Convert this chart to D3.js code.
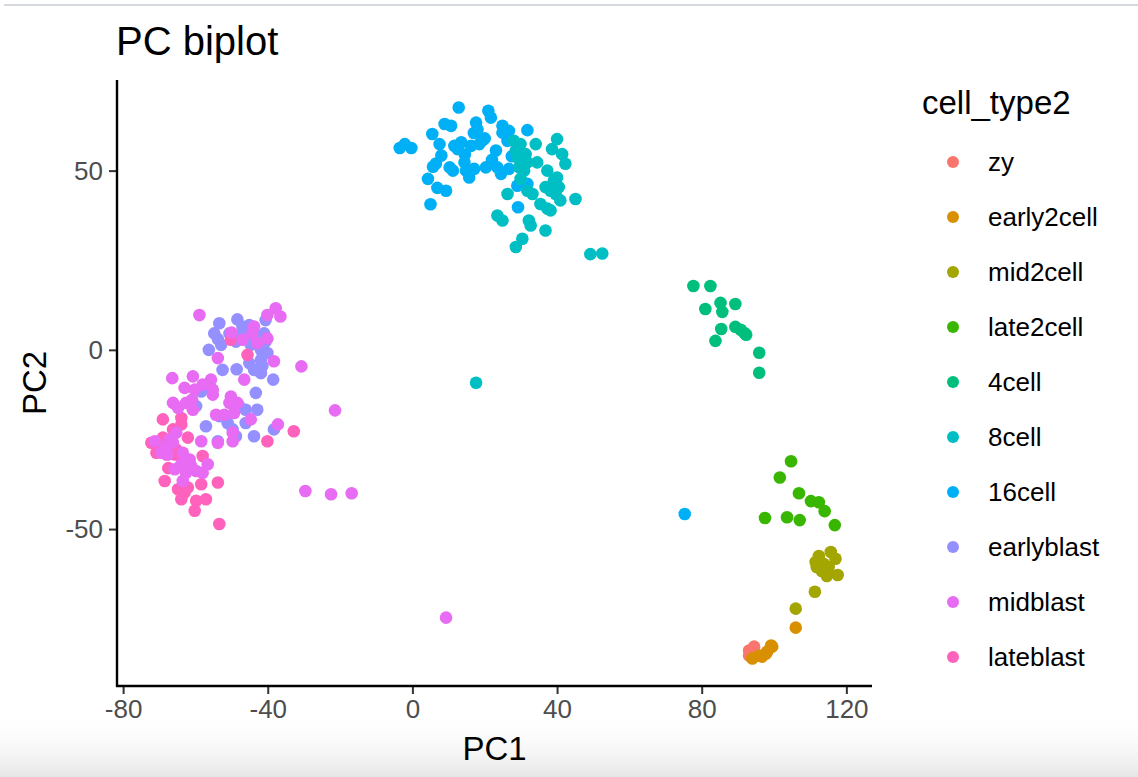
<!DOCTYPE html>
<html>
<head>
<meta charset="utf-8">
<script src="https://cdn.jsdelivr.net/npm/d3@7"></script>
<style>
  html, body { margin: 0; padding: 0; background: #fff; }
  body { width: 1138px; height: 777px; overflow: hidden; }
  svg { display: block; font-family: "Liberation Sans", Arial, Helvetica, sans-serif; }
</style>
</head>
<body>
<div id="chart"></div>
<script>
// ─── Data (PC1, PC2 per cell) ───
const categories = ['zy', 'early2cell', 'mid2cell', 'late2cell', '4cell', '8cell', '16cell', 'earlyblast', 'midblast', 'lateblast'];
const colors = ['#F8766D', '#D89000', '#A3A500', '#39B600', '#00BF7D', '#00BFC4', '#00B0F6', '#9590FF', '#E76BF3', '#FF62BC'];

const zy = [[93.1, -83.9], [94.5, -82.8], [94.0, -84.7], [93.1, -85.3]];
const early2cell = [[106.0, -77.5], [99.2, -82.5], [98.1, -84.2], [95.9, -85.3], [94.0, -86.1], [96.7, -85.6], [99.5, -82.8], [97.8, -84.7]];
const mid2cell = [[112.4, -57.5], [115.7, -56.4], [117.0, -58.3], [111.8, -60.6], [113.7, -59.7], [114.6, -63.1],
  [117.6, -62.8], [111.5, -59.2], [115.1, -60.6], [113.2, -61.7], [111.3, -67.5], [106.0, -72.2]];
const late2cell = [[104.7, -31.1], [101.6, -35.6], [106.9, -40.0], [110.2, -42.2], [112.4, -42.5], [114.0, -45.0],
  [116.8, -48.9], [97.5, -46.9], [103.6, -46.7], [107.1, -47.5]];
const cell4 = [[77.7, 17.8], [82.4, 17.8], [81.0, 11.4], [85.2, 13.1], [85.7, 10.6], [89.3, 12.8], [85.4, 5.8],
  [89.3, 6.4], [91.8, 4.7], [92.3, 4.2], [83.8, 2.5], [95.9, -0.8], [95.9, -6.4], [90.8, 5.6]];
const cell8 = [[28.1, 58.3], [29.9, 57.4], [31.3, 54.6], [34.1, 57.4], [40.0, 58.8], [38.6, 56.0], [41.4, 54.6],
  [42.3, 51.9], [29.0, 53.7], [31.8, 52.3], [34.5, 52.3], [37.3, 50.0], [30.9, 50.0], [29.9, 47.7], [31.8, 44.4],
  [33.2, 43.5], [35.4, 40.7], [37.3, 39.4], [38.2, 38.9], [39.1, 47.2], [40.5, 45.4], [38.2, 44.4], [40.9, 41.7],
  [45.1, 42.1], [26.3, 43.5], [23.5, 37.5], [24.9, 36.1], [32.2, 36.1], [32.7, 34.7], [36.8, 33.3], [30.4, 31.0],
  [28.6, 28.7], [39.6, 43.5], [29.5, 50.9], [28.6, 55.6], [36.8, 45.4], [40.0, 48.1], [49.2, 26.7], [52.5, 26.9],
  [17.6, -9.2]];
const cell16 = [[12.8, 67.6], [21.0, 66.7], [21.7, 64.8], [8.9, 63.0], [10.7, 62.5], [17.6, 63.4], [18.0, 61.5],
  [5.5, 60.2], [24.9, 62.5], [26.7, 61.1], [31.8, 61.3], [7.5, 57.4], [-2.1, 57.4], [-0.3, 56.3], [-3.5, 56.3],
  [13.5, 57.9], [12.5, 56.0], [16.2, 56.9], [18.5, 57.4], [19.5, 58.5], [23.1, 55.6], [8.0, 54.2], [5.7, 51.1],
  [10.3, 50.9], [11.2, 50.0], [14.4, 52.3], [14.8, 50.0], [15.7, 48.1], [17.1, 50.5], [20.3, 50.9], [4.3, 47.7],
  [6.9, 45.2], [9.3, 44.4], [5.0, 40.6], [24.5, 49.1], [26.7, 50.5], [29.0, 45.8], [31.8, 46.3], [29.2, 39.8],
  [24.9, 60.6], [26.3, 58.3], [23.5, 50.9], [11.6, 56.9], [20.0, 59.0], [14.5, 54.5], [27.5, 54.0], [17.0, 60.5],
  [22.0, 53.0], [6.5, 52.0], [75.3, -45.8]];
const earlyblast = [[-53.4, 7.4], [-54.8, 4.6], [-48.4, 8.5], [-47.0, 6.5], [-45.1, 6.9], [-40.6, 8.3], [-56.3, 0.0],
  [-52.9, 1.4], [-48.8, 2.3], [-44.7, 1.4], [-41.9, 0.0], [-41.0, 4.6], [-42.9, 3.7], [-52.5, -5.6], [-48.6, -5.4],
  [-41.9, -6.5], [-38.5, -8.3], [-58.4, -11.6], [-59.8, -15.7], [-53.4, -18.5], [-57.1, -21.3], [-53.8, -25.5],
  [-51.1, -20.4], [-46.1, -16.7], [-43.3, -12.0], [-42.9, -16.7], [-46.1, -20.4], [-43.8, -24.1], [-49.7, -22.2],
  [-48.8, -24.1], [-47.0, 4.6], [-50.6, 4.6], [-45.1, -3.7], [-41.9, -2.8], [-38.3, -22.2], [-40.1, -0.9],
  [-43.8, -5.6], [-51.6, -18.5], [-53.8, 3.0], [-46.1, 3.7], [-47.9, -15.7], [-40.6, 2.3], [-41.5, -4.5]];
const lateblast = [[-69.0, -19.4], [-63.9, -19.0], [-69.0, -24.5], [-63.9, -20.8], [-70.8, -28.7], [-68.0, -29.2],
  [-65.7, -29.2], [-68.5, -36.6], [-64.8, -38.9], [-63.0, -39.8], [-63.9, -41.7], [-59.8, -42.1], [-57.1, -41.7],
  [-60.2, -44.9], [-58.4, -37.5], [-53.8, -37.0], [-53.4, -48.6], [-62.1, -38.4], [-50.2, 2.8], [-45.6, -1.4],
  [-32.8, -22.7], [-40.1, -25.5], [-62.1, -24.5], [-72.2, -25.9], [-70.3, -27.8], [-66.2, -22.2], [-65.3, -27.8],
  [-63.0, -30.6], [-58.0, -29.6], [-67.5, -33.0]];
const midblast = [[-58.9, 9.7], [-37.8, 11.6], [-40.1, 9.7], [-36.5, 9.3], [-50.0, 4.8], [-43.8, 6.5], [-47.0, 2.8],
  [-42.9, 1.9], [-40.1, 3.2], [-53.8, -2.3], [-38.3, -3.2], [-30.7, -4.6], [-46.5, -8.3], [-66.4, -7.9], [-60.7, -7.4],
  [-63.0, -10.6], [-60.2, -11.1], [-55.7, -8.3], [-55.2, -12.5], [-66.2, -14.8], [-60.9, -13.9], [-50.2, -13.0],
  [-48.4, -14.8], [-54.3, -18.1], [-52.0, -18.1], [-49.3, -17.6], [-44.7, -19.4], [-37.2, -20.8], [-53.8, -25.9],
  [-49.7, -25.5], [-49.7, -23.1], [-65.3, -23.1], [-67.1, -25.0], [-71.2, -25.5], [-69.4, -28.7], [-67.6, -29.2],
  [-63.5, -28.7], [-58.4, -25.5], [-61.2, -32.4], [-65.7, -33.3], [-62.6, -34.3], [-59.8, -33.8], [-56.6, -31.9],
  [-58.0, -34.3], [-63.5, -36.6], [-29.6, -39.4], [-64.8, -16.2], [-55.2, -11.1], [-58.0, -9.7], [-62.6, -14.8],
  [-60.7, -16.7], [-50.6, -14.8], [-44.3, 4.6], [-68.0, -26.9], [-66.2, -25.9], [-61.6, -30.6], [-63.9, -31.9],
  [-21.4, -16.9], [-22.5, -40.3], [-16.8, -40.0], [9.3, -74.7]];

const groups = [zy, early2cell, mid2cell, late2cell, cell4, cell8, cell16, earlyblast, midblast, lateblast];
// order in which the groups are painted (later ones sit on top)
const drawOrder = [0, 1, 2, 3, 4, 6, 5, 7, 9, 8];

const xTicks = [-80, -40, 0, 40, 80, 120];
const yTicks = [-50, 0, 50];

// ─── Layout ───
const W = 1138, H = 777;
const plot = { left: 117, right: 872, top: 80, bottom: 686 };
const FONT_AXIS = 26, FONT_TITLE_AX = 33, FONT_TITLE = 40;

const svg = d3.select('#chart').append('svg')
  .attr('width', W).attr('height', H)
  .attr('viewBox', `0 0 ${W} ${H}`);

// screenshot framing: thin rule at top, soft grey fade at the bottom
const defs = svg.append('defs');
const grad = defs.append('linearGradient').attr('id', 'fade').attr('x1', 0).attr('y1', 0).attr('x2', 0).attr('y2', 1);
grad.append('stop').attr('offset', '0%').attr('stop-color', '#ffffff').attr('stop-opacity', 0);
grad.append('stop').attr('offset', '100%').attr('stop-color', '#e6e6e6').attr('stop-opacity', 1);
svg.append('rect').attr('x', 0).attr('y', 712).attr('width', W).attr('height', H - 712).attr('fill', 'url(#fade)');
svg.append('rect').attr('x', 4).attr('y', 4).attr('width', W - 4).attr('height', 2).attr('fill', '#d5d8dc');

// ─── Scales (ggplot-style 5% expansion) ───
const all = groups.flat();
const expand = (ext) => { const d = (ext[1] - ext[0]) * 0.05; return [ext[0] - d, ext[1] + d]; };
const x = d3.scaleLinear().domain(expand(d3.extent(all, d => d[0]))).range([plot.left, plot.right]);
const y = d3.scaleLinear().domain(expand(d3.extent(all, d => d[1]))).range([plot.bottom, plot.top]);

// ─── Points ───
const pts = [];
drawOrder.forEach(gi => groups[gi].forEach(p => pts.push({ x: p[0], y: p[1], g: gi })));

svg.append('g')
  .selectAll('circle')
  .data(pts)
  .join('circle')
  .attr('cx', d => x(d.x))
  .attr('cy', d => y(d.y))
  .attr('r', 6.3)
  .attr('fill', d => colors[d.g]);

// ─── Axes ───
const xAxis = svg.append('g')
  .attr('transform', `translate(0,${plot.bottom})`)
  .call(d3.axisBottom(x).tickValues(xTicks).tickSize(8).tickPadding(6).tickFormat(d3.format('d')));
const yAxis = svg.append('g')
  .attr('transform', `translate(${plot.left},0)`)
  .call(d3.axisLeft(y).tickValues(yTicks).tickSize(8).tickPadding(6).tickFormat(d3.format('d')));

[xAxis, yAxis].forEach(a => {
  a.select('.domain').remove();
  a.selectAll('.tick line').attr('stroke', '#333').attr('stroke-width', 2);
  a.selectAll('.tick text')
    .attr('fill', '#4d4d4d')
    .style('font-size', FONT_AXIS + 'px')
    .style('font-family', '"Liberation Sans", Arial, sans-serif');
});
xAxis.selectAll('.tick text').text(d => d < 0 ? '-' + Math.abs(d) : d);
yAxis.selectAll('.tick text').text(d => d < 0 ? '-' + Math.abs(d) : d).attr('dy', '0.34em');

// axis lines (theme_classic)
svg.append('line')
  .attr('x1', plot.left).attr('x2', plot.left)
  .attr('y1', plot.top).attr('y2', plot.bottom + 1)
  .attr('stroke', '#000').attr('stroke-width', 2.4);
svg.append('line')
  .attr('x1', plot.left - 1).attr('x2', plot.right)
  .attr('y1', plot.bottom).attr('y2', plot.bottom)
  .attr('stroke', '#000').attr('stroke-width', 2.4);

// ─── Titles ───
svg.append('text')
  .attr('x', plot.left - 1).attr('y', 55)
  .style('font-size', FONT_TITLE + 'px')
  .attr('fill', '#000')
  .text('PC biplot');

svg.append('text')
  .attr('x', (plot.left + plot.right) / 2).attr('y', 760)
  .attr('text-anchor', 'middle')
  .style('font-size', FONT_TITLE_AX + 'px')
  .text('PC1');

svg.append('text')
  .attr('transform', `translate(46,${(plot.top + plot.bottom) / 2}) rotate(-90)`)
  .attr('text-anchor', 'middle')
  .style('font-size', FONT_TITLE_AX + 'px')
  .text('PC2');

// ─── Legend ───
const legend = svg.append('g').attr('transform', 'translate(922,0)');
legend.append('text')
  .attr('x', 0).attr('y', 114)
  .style('font-size', FONT_TITLE_AX + 'px')
  .text('cell_type2');

const rowY = d3.scalePoint().domain(categories).range([162, 657]);
const rows = legend.selectAll('g.key')
  .data(categories)
  .join('g')
  .attr('class', 'key')
  .attr('transform', d => `translate(0,${rowY(d)})`);
rows.append('circle')
  .attr('cx', 31).attr('cy', 0).attr('r', 6)
  .attr('fill', (d, i) => colors[i]);
rows.append('text')
  .attr('x', 66).attr('y', 0).attr('dy', '0.35em')
  .style('font-size', FONT_AXIS + 'px')
  .attr('fill', '#000')
  .text(d => d);
</script>
</body>
</html>
